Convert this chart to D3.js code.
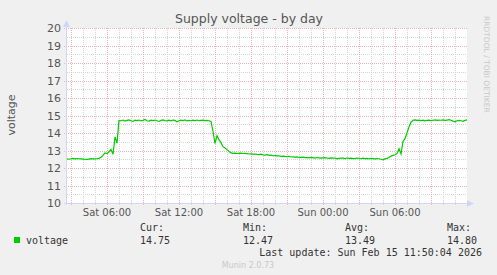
<!DOCTYPE html>
<html>
<head>
<meta charset="utf-8">
<script src="https://cdn.jsdelivr.net/npm/d3@7"></script>
<style>
  body { margin: 0; background: #f0f0f0; }
  svg { display: block; }
</style>
</head>
<body>
<div id="chart"></div>
<script>
// data (10 minute samples, starting Sat 02:40)
const startTime = new Date(2026, 1, 14, 2, 40);
const endTime = new Date(2026, 1, 15, 12, 0);
const stepMinutes = 10;
const voltage = [
  12.52, 12.50, 12.53, 12.55, 12.52, 12.54, 12.53, 12.52, 12.51, 12.50,
  12.49, 12.51, 12.53, 12.52, 12.52, 12.53, 12.55, 12.62, 12.72, 12.86,
  12.82, 12.92, 13.06, 12.78, 13.78, 13.42, 14.72,
  14.70, 14.74, 14.68, 14.72, 14.75, 14.70, 14.66, 14.73, 14.71, 14.74,
  14.69, 14.72, 14.78, 14.70, 14.68, 14.73, 14.71, 14.74, 14.70, 14.66,
  14.72, 14.75, 14.71, 14.69, 14.73, 14.70, 14.74, 14.72, 14.64, 14.70,
  14.73, 14.71, 14.75, 14.69, 14.72, 14.70, 14.73, 14.71, 14.74, 14.70,
  14.72, 14.73, 14.71, 14.72, 14.70,
  14.66, 14.10, 13.40, 13.85, 13.62, 13.45, 13.22, 13.14, 13.05, 12.95,
  12.86, 12.84, 12.85, 12.83, 12.84, 12.85, 12.83, 12.84, 12.82, 12.80,
  12.81, 12.79, 12.80, 12.78, 12.77, 12.79, 12.75, 12.74, 12.76, 12.72,
  12.73, 12.70, 12.71, 12.69, 12.70, 12.67, 12.68, 12.66, 12.65, 12.67,
  12.63, 12.64, 12.62, 12.63, 12.60, 12.61, 12.62, 12.59, 12.60, 12.58,
  12.61, 12.59, 12.57, 12.60, 12.58, 12.56, 12.58, 12.59, 12.57, 12.55,
  12.58, 12.56, 12.57, 12.52, 12.55, 12.57, 12.56, 12.54, 12.57, 12.55,
  12.56, 12.54, 12.55, 12.57, 12.55, 12.53, 12.56, 12.54, 12.55, 12.53,
  12.55, 12.54, 12.52, 12.54, 12.53, 12.50, 12.47, 12.52, 12.55, 12.60,
  12.68, 12.72, 12.76, 12.82, 13.10, 12.80, 13.52, 13.68, 14.00, 14.35,
  14.62, 14.73, 14.75,
  14.72, 14.74, 14.71, 14.73, 14.69, 14.72, 14.74, 14.71, 14.73, 14.75,
  14.72, 14.74, 14.73, 14.75, 14.72, 14.74, 14.76, 14.73, 14.68, 14.64,
  14.70, 14.72, 14.70, 14.67, 14.72, 14.75
];
const yTicks = [10, 11, 12, 13, 14, 15, 16, 17, 18, 19, 20];
const legendHeads = ["Cur:", "Min:", "Avg:", "Max:"];
const legendValues = ["14.75", "12.47", "13.49", "14.80"];

const W = 497, H = 275;
const plot = {left: 67, top: 28, width: 400, height: 175};

const svg = d3.select("#chart").append("svg")
  .attr("width", W).attr("height", H)
  .style("font-family", "'DejaVu Sans', sans-serif");

svg.append("rect").attr("width", W).attr("height", H).attr("fill", "#f0f0f0");

const x = d3.scaleTime().domain([startTime, endTime])
  .range([plot.left, plot.left + plot.width]);
const y = d3.scaleLinear().domain([10, 20])
  .range([plot.top + plot.height, plot.top]);

// canvas
svg.append("rect")
  .attr("x", plot.left).attr("y", plot.top)
  .attr("width", plot.width).attr("height", plot.height)
  .attr("fill", "#fff");

const px = v => Math.round(v) + 0.5;
const gridG = svg.append("g").attr("shape-rendering", "crispEdges");
const minorCol = "#d4d4d4", majorCol = "#ecb4b4";

// horizontal grid: half volts gray, full volts red
const halfVolts = d3.range(10.5, 20, 1);
gridG.selectAll(".hminor").data(halfVolts).join("line")
  .attr("x1", plot.left).attr("x2", plot.left + plot.width)
  .attr("y1", d => px(y(d))).attr("y2", d => px(y(d)))
  .attr("stroke", minorCol).attr("stroke-dasharray", "1,1");
gridG.selectAll(".hmajor").data(yTicks).join("line")
  .attr("x1", plot.left - 3).attr("x2", plot.left + plot.width)
  .attr("y1", d => px(y(d))).attr("y2", d => px(y(d)))
  .attr("stroke", majorCol).attr("stroke-dasharray", "1,1");

// vertical grid: hours gray, 3 hours red
const hours = x.ticks(d3.timeHour.every(1)).filter(d => x(d) < plot.left + plot.width);
const hours3 = hours.filter(d => d.getHours() % 3 === 0);
gridG.selectAll(".vminor").data(hours.filter(d => d.getHours() % 3 !== 0)).join("line")
  .attr("x1", d => px(x(d))).attr("x2", d => px(x(d)))
  .attr("y1", plot.top).attr("y2", plot.top + plot.height + 2)
  .attr("stroke", minorCol).attr("stroke-dasharray", "1,1");
gridG.selectAll(".vmajor").data(hours3).join("line")
  .attr("x1", d => px(x(d))).attr("x2", d => px(x(d)))
  .attr("y1", plot.top).attr("y2", plot.top + plot.height + 3)
  .attr("stroke", majorCol).attr("stroke-dasharray", "1,1");

// data line
const series = voltage.map((v, i) => ({t: d3.timeMinute.offset(startTime, i * stepMinutes), v: v}));
svg.append("path").datum(series)
  .attr("fill", "none")
  .attr("stroke", "#00cc00")
  .attr("stroke-width", 1.2)
  .attr("d", d3.line().x(d => x(d.t)).y(d => y(d.v)));

// axes with arrows
const axisCol = "#cfd6f8";
svg.append("line").attr("shape-rendering", "crispEdges")
  .attr("x1", 66.5).attr("x2", 66.5).attr("y1", plot.top + plot.height + 2).attr("y2", 24)
  .attr("stroke", axisCol);
svg.append("path").attr("d", "M63,27 L70,27 L66.5,20 Z").attr("fill", axisCol);
svg.append("line").attr("shape-rendering", "crispEdges")
  .attr("x1", 64).attr("x2", 470).attr("y1", 203.5).attr("y2", 203.5)
  .attr("stroke", axisCol);
svg.append("path").attr("d", "M467,200 L467,207 L474,203.5 Z").attr("fill", axisCol);

// y labels
svg.append("g").selectAll("text").data(yTicks).join("text")
  .attr("x", 61).attr("y", d => y(d) + 4)
  .attr("text-anchor", "end")
  .attr("font-size", 11).attr("fill", "#555")
  .text(d => d);

// x labels every 6 hours
const fmt = d3.timeFormat("%a %H:%M");
svg.append("g").selectAll("text").data(hours.filter(d => d.getHours() % 6 === 0)).join("text")
  .attr("x", d => x(d)).attr("y", 216)
  .attr("text-anchor", "middle")
  .attr("font-size", 10).attr("fill", "#555")
  .text(d => fmt(d));

// titles
svg.append("text").attr("x", 249).attr("y", 23)
  .attr("text-anchor", "middle").attr("font-size", 12.5).attr("fill", "#555")
  .text("Supply voltage - by day");
svg.append("text").attr("transform", "translate(15,115) rotate(-90)")
  .attr("text-anchor", "middle").attr("font-size", 11).attr("fill", "#555")
  .text("voltage");
svg.append("text").attr("transform", "translate(484,16) rotate(90)")
  .attr("text-anchor", "start").attr("font-size", 7.5).attr("fill", "#c8c8c8")
  .text("RRDTOOL / TOBI OETIKER");

// legend
const mono = "'DejaVu Sans Mono', monospace";
svg.append("rect").attr("x", 14).attr("y", 237).attr("width", 6).attr("height", 6).attr("fill", "#00cc00");
svg.append("text").attr("x", 26).attr("y", 243.5)
  .attr("font-family", mono).attr("font-size", 10).attr("fill", "#333")
  .text("voltage");
const colX = [140, 243, 345, 447];
svg.append("g").selectAll("text").data(legendHeads).join("text")
  .attr("x", (d, i) => colX[i]).attr("y", 231)
  .attr("font-family", mono).attr("font-size", 10).attr("fill", "#333")
  .text(d => d);
svg.append("g").selectAll("text").data(legendValues).join("text")
  .attr("x", (d, i) => colX[i]).attr("y", 243.5)
  .attr("font-family", mono).attr("font-size", 10).attr("fill", "#333")
  .text(d => d);
svg.append("text").attr("x", 482).attr("y", 255.5)
  .attr("text-anchor", "end")
  .attr("font-family", mono).attr("font-size", 10).attr("fill", "#333")
  .text("Last update: Sun Feb 15 11:50:04 2026");
svg.append("text").attr("x", 248).attr("y", 268)
  .attr("text-anchor", "middle").attr("font-size", 8).attr("fill", "#c8c8c8")
  .text("Munin 2.0.73");
</script>
</body>
</html>
